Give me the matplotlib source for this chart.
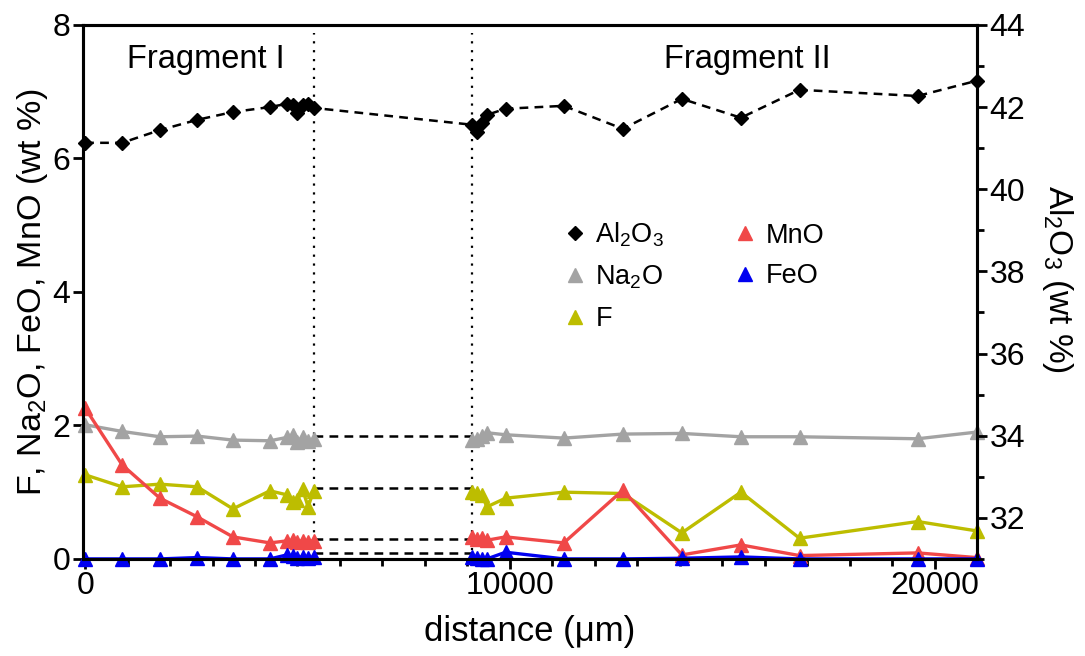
import matplotlib
matplotlib.use("Agg")
import matplotlib.pyplot as plt
from matplotlib.ticker import MultipleLocator
from matplotlib.lines import Line2D

plt.rcParams['font.family'] = ['Liberation Sans', 'DejaVu Sans']
plt.rcParams['mathtext.fontset'] = 'custom'
plt.rcParams['mathtext.rm'] = 'Liberation Sans'
plt.rcParams['mathtext.it'] = 'Liberation Sans:italic'
plt.rcParams['mathtext.default'] = 'regular'

# distances (µm)
x_frag1 = [0, 870, 1760, 2640, 3480, 4350, 4750, 4900, 5000, 5120, 5250, 5380]
x_frag2 = [9110, 9220, 9340, 9460, 9900, 11270, 12660, 14050, 15440, 16820, 19600, 20990]

al2o3_1 = [41.13, 41.13, 41.44, 41.69, 41.88, 42.0, 42.08, 42.05, 41.86, 42.05, 42.08, 41.98]
al2o3_2 = [41.57, 41.40, 41.62, 41.81, 41.96, 42.03, 41.47, 42.2, 41.74, 42.42, 42.27, 42.64]

na2o_1 = [2.01, 1.91, 1.83, 1.84, 1.78, 1.77, 1.82, 1.86, 1.75, 1.83, 1.76, 1.80]
na2o_2 = [1.78, 1.80, 1.84, 1.89, 1.86, 1.81, 1.87, 1.88, 1.83, 1.83, 1.80, 1.90]

f_1 = [1.26, 1.08, 1.12, 1.08, 0.75, 1.02, 0.96, 0.85, 0.88, 1.04, 0.78, 1.02]
f_2 = [1.00, 0.98, 0.96, 0.78, 0.91, 1.00, 0.98, 0.39, 1.00, 0.31, 0.56, 0.42]

mno_1 = [2.26, 1.41, 0.91, 0.63, 0.33, 0.24, 0.27, 0.28, 0.26, 0.27, 0.26, 0.27]
mno_2 = [0.33, 0.30, 0.31, 0.28, 0.33, 0.24, 1.03, 0.06, 0.21, 0.05, 0.09, 0.02]

feo_1 = [0.0, 0.0, 0.0, 0.02, 0.0, 0.0, 0.06, 0.04, 0.02, 0.03, 0.01, 0.03]
feo_2 = [0.03, 0.02, 0.0, 0.0, 0.10, 0.0, 0.0, 0.01, 0.03, 0.0, 0.0, 0.0]

# fragment boundaries and mean connectors
bounds = [5400, 9110]
gap_levels = [1.84, 1.06, 0.30, 0.09]

col_na = '#A3A3A3'
col_f = '#BDBD00'
col_mn = '#F04848'
col_fe = '#0000F0'

fig = plt.figure(figsize=(10.85, 6.56), dpi=100)
ax = fig.add_axes([0.0765, 0.148, 0.824, 0.814])
ax2 = ax.twinx()

FS = 23

for xs, ys, c, z in [((x_frag1, x_frag2), (na2o_1, na2o_2), col_na, 3),
                     ((x_frag1, x_frag2), (f_1, f_2), col_f, 4),
                     ((x_frag1, x_frag2), (mno_1, mno_2), col_mn, 5),
                     ((x_frag1, x_frag2), (feo_1, feo_2), col_fe, 6)]:
    for xx, yy in zip(xs, ys):
        ax.plot(xx, yy, color=c, lw=2.4, marker='^', ms=10, mec=c, mfc=c,
                zorder=z, clip_on=False)

for lv in gap_levels:
    ax.plot(bounds, [lv, lv], color='black', ls=(0, (3.5, 2.5)), lw=1.8, zorder=2)

for b in bounds:
    ax.axvline(b, color='black', ls=(0, (1, 3)), lw=1.6, ymax=0.985, zorder=1)

ax2.plot(x_frag1 + x_frag2, al2o3_1 + al2o3_2, color='black', ls=(0, (3.5, 2.5)),
         lw=1.8, marker='D', ms=7.5, mfc='black', mec='black', clip_on=False)

ax.set_xlim(-50, 21000)
ax.set_ylim(0, 8)
ax2.set_ylim(31, 44)

ax.xaxis.set_major_locator(MultipleLocator(10000))
ax.xaxis.set_minor_locator(MultipleLocator(1000))
ax.yaxis.set_major_locator(MultipleLocator(2))
ax2.yaxis.set_major_locator(MultipleLocator(2))
ax2.yaxis.set_minor_locator(MultipleLocator(1))

for a in (ax, ax2):
    for s in a.spines.values():
        s.set_linewidth(2.2)
    a.tick_params(which='major', length=7, width=2, labelsize=FS, direction='out', pad=2)
    a.tick_params(which='minor', length=5, width=2, direction='out')

ax.set_xlabel('distance (μm)', fontsize=25, labelpad=10)
ax.set_ylabel('F, Na$_2$O, FeO, MnO (wt %)', fontsize=24.5, labelpad=2)
ax2.set_ylabel('Al$_2$O$_3$ (wt %)', fontsize=24, rotation=270, labelpad=36)
ax2.yaxis.label.set_y(0.525)

ax.text(2840, 7.48, 'Fragment I', fontsize=23.5, ha='center', va='center')
ax.text(15600, 7.48, 'Fragment II', fontsize=23.5, ha='center', va='center')

handles = [
    Line2D([], [], ls='none', marker='D', ms=7, color='black'),
    Line2D([], [], ls='none', marker='^', ms=10, color=col_na),
    Line2D([], [], ls='none', marker='^', ms=10, color=col_f),
    Line2D([], [], ls='none', marker='^', ms=10, color=col_mn),
    Line2D([], [], ls='none', marker='^', ms=10, color=col_fe),
]
labels = ['Al$_2$O$_3$', 'Na$_2$O', 'F', 'MnO', 'FeO']
ax2.legend(handles, labels, ncol=2, frameon=False, fontsize=19.5,
           loc='upper left', bbox_to_anchor=(0.52, 0.659), borderpad=0,
           handletextpad=0.25, columnspacing=2.5, labelspacing=0.55,
           handlelength=1.0)

fig.savefig('out.png', dpi=100)
